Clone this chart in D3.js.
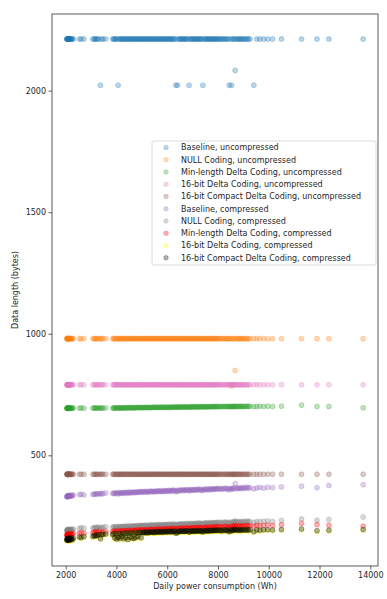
<!DOCTYPE html>
<html>
<head>
<meta charset="utf-8">
<script src="https://cdn.jsdelivr.net/npm/d3@7/dist/d3.min.js"></script>
<style>
  body { margin: 0; background: #fff; }
  text { font-family: "DejaVu Sans", sans-serif; fill: #262626; }
</style>
</head>
<body>
<svg id="chart" width="387" height="599"></svg>
<script>
// Daily power consumption (Wh), one entry per day
const days = [
  2044, 2052, 2060, 2069, 2078, 2086, 2095, 2105, 2115, 2127,
  2140, 2155, 2170, 2190, 2210, 2235, 2260, 2300,
  2540, 2610, 2720,
  3070, 3120, 3160, 3210, 3250, 3310, 3368, 3420, 3470, 3580,
  3850, 3890, 3930, 3970, 4010, 4063, 4090, 4130, 4170, 4210,
  4250, 4290, 4330, 4370, 4410, 4450, 4490, 4530, 4570, 4610,
  4650, 4690, 4730, 4770, 4810, 4850, 4890, 4930, 4970, 5010,
  5050, 5090, 5130, 5170, 5210, 5250, 5290, 5330, 5370, 5410,
  5450, 5490, 5530, 5570, 5610, 5650, 5690, 5730, 5770, 5810,
  5850, 5890, 5930, 5970, 6010, 6050, 6090, 6130, 6170, 6210,
  6250, 6290, 6338, 6370, 6405, 6450, 6490, 6530, 6570, 6610,
  6650, 6690, 6730, 6770, 6810, 6862, 6890, 6930, 6970, 7010,
  7050, 7090, 7130, 7170, 7210, 7250, 7290, 7330, 7370, 7402,
  7450, 7490, 7530, 7570, 7610, 7650, 7690, 7730, 7770, 7810,
  7850, 7890, 7930, 7970, 8010,
  8060, 8110, 8160, 8210, 8260, 8310, 8360, 8400, 8440, 8490,
  8534, 8570, 8600, 8640, 8677, 8720, 8760, 8810, 8850, 8900,
  8940, 8990, 9040, 9100, 9150, 9200, 9260,
  9413, 9530, 9650, 9800, 9960, 10150, 10500, 11290, 11900, 12370, 13720
];

// Data length in bytes for each encoding, in the same day order
const baselineUncompressed = [
  2212, 2212, 2212, 2212, 2212, 2212, 2212, 2212, 2212, 2212,
  2212, 2212, 2212, 2212, 2212, 2212, 2212, 2212, 2212, 2212,
  2212, 2212, 2212, 2212, 2212, 2212, 2212, 2022, 2212, 2212,
  2212, 2212, 2212, 2212, 2212, 2212, 2022, 2212, 2212, 2212,
  2212, 2212, 2212, 2212, 2212, 2212, 2212, 2212, 2212, 2212,
  2212, 2212, 2212, 2212, 2212, 2212, 2212, 2212, 2212, 2212,
  2212, 2212, 2212, 2212, 2212, 2212, 2212, 2212, 2212, 2212,
  2212, 2212, 2212, 2212, 2212, 2212, 2212, 2212, 2212, 2212,
  2212, 2212, 2212, 2212, 2212, 2212, 2212, 2212, 2212, 2212,
  2212, 2212, 2212, 2022, 2212, 2022, 2212, 2212, 2212, 2212,
  2212, 2212, 2212, 2212, 2212, 2212, 2022, 2212, 2212, 2212,
  2212, 2212, 2212, 2212, 2212, 2212, 2212, 2212, 2212, 2212,
  2022, 2212, 2212, 2212, 2212, 2212, 2212, 2212, 2212, 2212,
  2212, 2212, 2212, 2212, 2212, 2212, 2212, 2212, 2212, 2212,
  2212, 2212, 2212, 2212, 2022, 2212, 2022, 2212, 2212, 2212,
  2083, 2212, 2212, 2212, 2212, 2212, 2212, 2212, 2212, 2212,
  2212, 2212, 2212, 2022, 2212, 2212, 2212, 2212, 2212, 2212,
  2212, 2212, 2212, 2212
];
const nullUncompressed = [
  980, 980, 980, 980, 980, 980, 980, 980, 980, 980,
  980, 980, 980, 980, 980, 980, 980, 980, 980, 980,
  980, 980, 980, 980, 980, 980, 980, 980, 980, 980,
  980, 980, 980, 980, 980, 980, 980, 980, 980, 980,
  980, 980, 980, 980, 980, 980, 980, 980, 980, 980,
  980, 980, 980, 980, 980, 980, 980, 980, 980, 980,
  980, 980, 980, 980, 980, 980, 980, 980, 980, 980,
  980, 980, 980, 980, 980, 980, 980, 980, 980, 980,
  980, 980, 980, 980, 980, 980, 980, 980, 980, 980,
  980, 980, 980, 980, 980, 980, 980, 980, 980, 980,
  980, 980, 980, 980, 980, 980, 980, 980, 980, 980,
  980, 980, 980, 980, 980, 980, 980, 980, 980, 980,
  980, 980, 980, 980, 980, 980, 980, 980, 980, 980,
  980, 980, 980, 980, 980, 980, 980, 980, 980, 980,
  980, 980, 980, 980, 980, 980, 785, 980, 980, 980,
  849, 980, 980, 980, 980, 980, 980, 980, 980, 980,
  980, 980, 980, 980, 980, 980, 980, 980, 980, 980,
  980, 980, 980, 980
];
const minDeltaUncompressed = [
  694, 693, 694, 695, 693, 694, 694, 695, 694, 693, 694, 695, 694, 693, 695, 694, 694, 695,
  694, 695, 694,
  694, 695, 694, 695, 694, 695, 694, 695, 694, 695,
  694, 695, 695, 694, 695, 695, 696, 695, 694, 695,
  695, 696, 695, 695, 696, 695, 696, 696, 695, 696,
  696, 695, 696, 696, 697, 696, 696, 697, 696, 696,
  697, 696, 697, 697, 696, 697, 697, 696, 697, 697,
  697, 698, 697, 697, 698, 697, 697, 698, 697, 698,
  697, 698, 698, 697, 698, 698, 697, 698, 698, 699,
  698, 698, 699, 698, 698, 699, 698, 699, 699, 698,
  699, 699, 698, 699, 699, 698, 699, 699, 700, 699,
  699, 700, 699, 699, 700, 699, 700, 700, 699, 700,
  700, 699, 700, 700, 699, 700, 700, 701, 700, 700,
  700, 701, 700, 700, 701,
  700, 701, 700, 701, 700, 701, 701, 700, 701, 700,
  701, 701, 700, 701, 702, 701, 700, 701, 701, 702,
  701, 700, 701, 702, 701, 701, 702,
  700, 701, 702, 701, 702, 701, 702, 706, 701, 701, 696
];
const deltaUncompressed = [
  790, 790, 790, 790, 790, 790, 790, 790, 790, 790,
  790, 790, 790, 790, 790, 790, 790, 790, 790, 790,
  790, 790, 790, 790, 790, 790, 790, 790, 790, 790,
  790, 790, 790, 790, 790, 790, 790, 790, 790, 790,
  790, 790, 790, 790, 790, 790, 790, 790, 790, 790,
  790, 790, 790, 790, 790, 790, 790, 790, 790, 790,
  790, 790, 790, 790, 790, 790, 790, 790, 790, 790,
  790, 790, 790, 790, 790, 790, 790, 790, 790, 790,
  790, 790, 790, 790, 790, 790, 790, 790, 790, 790,
  790, 790, 790, 790, 790, 790, 790, 790, 790, 790,
  790, 790, 790, 790, 790, 790, 790, 790, 790, 790,
  790, 790, 790, 790, 790, 790, 790, 790, 790, 790,
  790, 790, 790, 790, 790, 790, 790, 790, 790, 790,
  790, 790, 790, 790, 790, 790, 790, 790, 790, 790,
  790, 790, 790, 790, 790, 790, 790, 790, 790, 790,
  790, 790, 790, 790, 790, 790, 790, 790, 790, 790,
  790, 790, 790, 790, 790, 790, 790, 790, 790, 790,
  790, 790, 790, 790
];
const compactUncompressed = [
  422, 422, 422, 422, 422, 422, 422, 422, 422, 422,
  422, 422, 422, 422, 422, 422, 422, 422, 422, 422,
  422, 422, 422, 422, 422, 422, 422, 422, 422, 422,
  422, 422, 422, 422, 422, 422, 422, 422, 422, 422,
  422, 422, 422, 422, 422, 422, 422, 422, 422, 422,
  422, 422, 422, 422, 422, 422, 422, 422, 422, 422,
  422, 422, 422, 422, 422, 422, 422, 422, 422, 422,
  422, 422, 422, 422, 422, 422, 422, 422, 422, 422,
  422, 422, 422, 422, 422, 422, 422, 422, 422, 422,
  422, 422, 422, 422, 422, 422, 422, 422, 422, 422,
  422, 422, 422, 422, 422, 422, 422, 422, 422, 422,
  422, 422, 422, 422, 422, 422, 422, 422, 422, 422,
  422, 422, 422, 422, 422, 422, 422, 422, 422, 422,
  422, 422, 422, 422, 422, 422, 422, 422, 422, 422,
  422, 422, 422, 422, 422, 422, 422, 422, 422, 422,
  422, 422, 422, 422, 422, 422, 422, 422, 422, 422,
  422, 422, 422, 422, 422, 422, 422, 422, 422, 422,
  422, 422, 422, 422
];
const baselineCompressed = [
  330, 332, 329, 333, 331, 334, 330, 333, 332, 335, 331, 334, 333, 336, 332, 335, 334, 337,
  338, 340, 337,
  339, 341, 340, 342, 341, 343, 340, 344, 342, 345,
  343, 345, 342, 346, 344, 341, 347, 345, 343, 346,
  345, 347, 344, 348, 346, 344, 349, 347, 345, 348,
  347, 349, 346, 348, 350, 347, 349, 351, 348, 350,
  349, 351, 348, 352, 350, 348, 351, 353, 350, 352,
  351, 349, 353, 351, 354, 350, 352, 355, 352, 350,
  353, 355, 352, 354, 351, 356, 353, 355, 352, 357,
  354, 356, 350, 355, 352, 357, 354, 356, 358, 355,
  357, 355, 358, 356, 359, 353, 357, 359, 356, 358,
  358, 356, 360, 357, 359, 361, 358, 356, 360, 355,
  359, 361, 358, 362, 360, 357, 361, 363, 359, 361,
  362, 360, 363, 361, 364,
  361, 363, 360, 364, 362, 365, 361, 363, 358, 364,
  360, 365, 363, 366, 384, 362, 366, 364, 367, 363,
  365, 368, 364, 366, 369, 365, 367,
  362, 366, 368, 365, 369, 367, 370, 373, 367, 376, 379
];
const nullCompressed = [
  190, 193, 188, 194, 191, 195, 189, 192, 196, 193, 190, 194, 192, 195, 191, 196, 193, 197,
  199, 202, 200,
  200, 203, 201, 204, 202, 205, 199, 203, 204, 206,
  204, 206, 203, 207, 205, 201, 208, 206, 204, 207,
  206, 208, 205, 209, 207, 205, 210, 208, 206, 209,
  208, 210, 207, 209, 211, 208, 210, 212, 209, 211,
  210, 212, 209, 213, 211, 209, 212, 214, 211, 213,
  212, 210, 214, 212, 215, 211, 213, 216, 213, 211,
  214, 216, 213, 215, 212, 217, 214, 216, 213, 218,
  215, 217, 211, 216, 213, 218, 215, 217, 219, 216,
  218, 216, 219, 217, 220, 214, 218, 220, 217, 219,
  219, 217, 221, 218, 220, 222, 219, 217, 221, 216,
  220, 222, 219, 223, 221, 218, 222, 224, 220, 222,
  223, 221, 224, 222, 225,
  222, 224, 221, 225, 223, 226, 222, 224, 219, 225,
  221, 226, 224, 227, 230, 223, 227, 225, 228, 224,
  226, 229, 225, 227, 230, 226, 228,
  224, 228, 227, 229, 230, 228, 232, 238, 233, 236, 246
];
const minDeltaCompressed = [
  171, 174, 169, 175, 172, 176, 170, 173, 177, 174, 171, 175, 173, 176, 172, 177, 174, 178,
  179, 181, 180,
  181, 184, 182, 185, 183, 186, 176, 184, 185, 187,
  186, 188, 185, 189, 187, 180, 190, 188, 186, 189,
  188, 190, 187, 191, 189, 187, 192, 190, 188, 191,
  190, 192, 189, 191, 193, 190, 192, 194, 191, 193,
  192, 194, 191, 195, 193, 191, 194, 196, 193, 195,
  194, 192, 196, 194, 197, 193, 195, 198, 195, 193,
  196, 198, 195, 197, 194, 199, 196, 198, 195, 200,
  197, 199, 193, 198, 195, 200, 197, 199, 201, 198,
  200, 198, 201, 199, 202, 196, 200, 202, 199, 201,
  201, 199, 203, 200, 202, 204, 201, 199, 203, 198,
  202, 204, 201, 205, 203, 200, 204, 206, 202, 204,
  205, 203, 206, 204, 207,
  204, 206, 203, 207, 205, 208, 204, 206, 201, 207,
  203, 208, 206, 209, 212, 205, 209, 207, 210, 206,
  208, 211, 207, 209, 212, 208, 210,
  209, 211, 210, 212, 213, 211, 214, 220, 215, 212, 208
];
const deltaCompressed = [
  150, 153, 148, 155, 151, 157, 149, 154, 151, 156, 152, 148, 155, 151, 158, 153, 150, 156,
  161, 158, 163,
  163, 167, 165, 169, 167, 171, 155, 170, 172, 173,
  171, 174, 158, 175, 153, 160, 176, 155, 173, 162,
  177, 154, 175, 159, 178, 152, 176, 161, 179, 157,
  177, 155, 180, 160, 178, 163, 179, 181, 158, 180,
  179, 181, 178, 182, 180, 178, 181, 183, 180, 182,
  181, 179, 183, 181, 184, 180, 182, 184, 182, 180,
  183, 184, 182, 184, 181, 185, 183, 184, 182, 185,
  183, 185, 177, 184, 179, 185, 184, 185, 186, 184,
  185, 184, 186, 185, 187, 181, 185, 187, 184, 186,
  186, 184, 187, 185, 186, 188, 186, 184, 187, 182,
  186, 188, 185, 188, 187, 185, 188, 189, 186, 188,
  189, 187, 189, 188, 190,
  187, 189, 186, 190, 188, 190, 187, 189, 183, 190,
  186, 190, 189, 191, 193, 188, 191, 189, 191, 188,
  190, 192, 189, 190, 192, 189, 191,
  183, 190, 189, 191, 191, 190, 192, 194, 186, 189, 192
];
const compactCompressed = [
  152, 156, 150, 158, 154, 160, 151, 157, 153, 159, 155, 150, 158, 154, 161, 156, 153, 159,
  164, 161, 166,
  166, 170, 168, 172, 170, 174, 157, 173, 175, 176,
  174, 177, 160, 178, 156, 163, 179, 158, 176, 165,
  180, 157, 178, 162, 181, 154, 179, 164, 182, 160,
  180, 158, 183, 163, 181, 166, 182, 184, 161, 183,
  182, 184, 181, 185, 183, 181, 184, 186, 183, 185,
  184, 182, 186, 184, 187, 183, 185, 187, 185, 183,
  186, 187, 185, 187, 184, 188, 186, 187, 185, 188,
  186, 188, 180, 187, 182, 188, 187, 188, 189, 187,
  188, 187, 189, 188, 190, 184, 188, 190, 187, 189,
  189, 187, 190, 188, 189, 191, 189, 187, 190, 185,
  189, 191, 188, 191, 190, 188, 191, 192, 189, 191,
  192, 190, 192, 191, 193,
  190, 192, 189, 193, 191, 193, 190, 192, 186, 193,
  189, 193, 192, 194, 196, 191, 194, 192, 194, 191,
  193, 195, 192, 193, 195, 192, 194,
  186, 193, 192, 194, 194, 193, 195, 197, 190, 192, 195
];

const seriesNames = [
  "Baseline, uncompressed",
  "NULL Coding, uncompressed",
  "Min-length Delta Coding, uncompressed",
  "16-bit Delta Coding, uncompressed",
  "16-bit Compact Delta Coding, uncompressed",
  "Baseline, compressed",
  "NULL Coding, compressed",
  "Min-length Delta Coding, compressed",
  "16-bit Delta Coding, compressed",
  "16-bit Compact Delta Coding, compressed"
];
const seriesValues = [
  baselineUncompressed, nullUncompressed, minDeltaUncompressed,
  deltaUncompressed, compactUncompressed, baselineCompressed,
  nullCompressed, minDeltaCompressed, deltaCompressed, compactCompressed
];
const seriesColors = [
  "#1f77b4", "#ff7f0e", "#2ca02c", "#e377c2", "#8c564b",
  "#9467bd", "#808080", "#ff0000", "#ffff00", "#000000"
];
const xTicks = [2000, 4000, 6000, 8000, 10000, 12000, 14000];
const yTicks = [500, 1000, 1500, 2000];

const svg = d3.select("#chart");
const plot = { left: 52, right: 378, top: 14, bottom: 566 };

// Axis limits padded by 5% of the data range on each side
function padded(lo, hi) {
  const m = (hi - lo) * 0.05;
  return [lo - m, hi + m];
}
const allY = seriesValues.flat();
const x = d3.scaleLinear()
  .domain(padded(d3.min(days), d3.max(days)))
  .range([plot.left, plot.right]);
const y = d3.scaleLinear()
  .domain(padded(d3.min(allY), d3.max(allY)))
  .range([plot.bottom, plot.top]);

// Scatter points, one layer per encoding
const marks = svg.append("g");
seriesValues.forEach((vals, i) => {
  marks.append("g")
    .selectAll("circle")
    .data(days.map((d, j) => [d, vals[j]]).filter(p => p[1] != null))
    .join("circle")
    .attr("cx", d => x(d[0]))
    .attr("cy", d => y(d[1]))
    .attr("r", 2.5)
    .attr("fill", seriesColors[i])
    .attr("fill-opacity", 0.3)
    .attr("stroke", seriesColors[i])
    .attr("stroke-opacity", 0.3)
    .attr("stroke-width", 0.9);
});

// Axes
const xAxis = svg.append("g")
  .attr("transform", `translate(0,${plot.bottom})`)
  .call(d3.axisBottom(x).tickValues(xTicks).tickFormat(d3.format("d")).tickSizeOuter(0).tickSize(3.5).tickPadding(2.5));
const yAxis = svg.append("g")
  .attr("transform", `translate(${plot.left},0)`)
  .call(d3.axisLeft(y).tickValues(yTicks).tickFormat(d3.format("d")).tickSizeOuter(0).tickSize(3.5).tickPadding(2.5));
[xAxis, yAxis].forEach(a => {
  a.select(".domain").remove();
  a.selectAll("line").attr("stroke", "#333").attr("stroke-width", 0.8);
  a.selectAll("text").attr("font-size", 8).attr("font-family", "DejaVu Sans").attr("fill", "#262626");
});

// Frame
svg.append("rect")
  .attr("x", plot.left).attr("y", plot.top)
  .attr("width", plot.right - plot.left).attr("height", plot.bottom - plot.top)
  .attr("fill", "none").attr("stroke", "#333").attr("stroke-width", 0.8);

// Axis titles
svg.append("text")
  .attr("x", (plot.left + plot.right) / 2).attr("y", 589)
  .attr("text-anchor", "middle").attr("font-size", 8)
  .text("Daily power consumption (Wh)");
svg.append("text")
  .attr("transform", `translate(18,${(plot.top + plot.bottom) / 2}) rotate(-90)`)
  .attr("text-anchor", "middle").attr("font-size", 8)
  .text("Data length (bytes)");

// Legend
const lg = svg.append("g").attr("transform", "translate(152,141)");
lg.append("rect")
  .attr("x", 0).attr("y", 0).attr("width", 224).attr("height", 124)
  .attr("rx", 2)
  .attr("fill", "#fff").attr("fill-opacity", 0.8)
  .attr("stroke", "#d0d0d0").attr("stroke-width", 0.8);
const rows = lg.selectAll("g.row").data(seriesNames).join("g")
  .attr("class", "row")
  .attr("transform", (d, i) => `translate(0,${6.5 + i * 12.25})`);
rows.append("circle")
  .attr("cx", 14).attr("cy", 0).attr("r", 2.3)
  .attr("fill", (d, i) => seriesColors[i]).attr("fill-opacity", 0.3)
  .attr("stroke", (d, i) => seriesColors[i]).attr("stroke-opacity", 0.3)
  .attr("stroke-width", 0.8);
rows.append("text")
  .attr("x", 29).attr("y", 0).attr("dy", "0.35em")
  .attr("font-size", 8)
  .text(d => d);
</script>
</body>
</html>
